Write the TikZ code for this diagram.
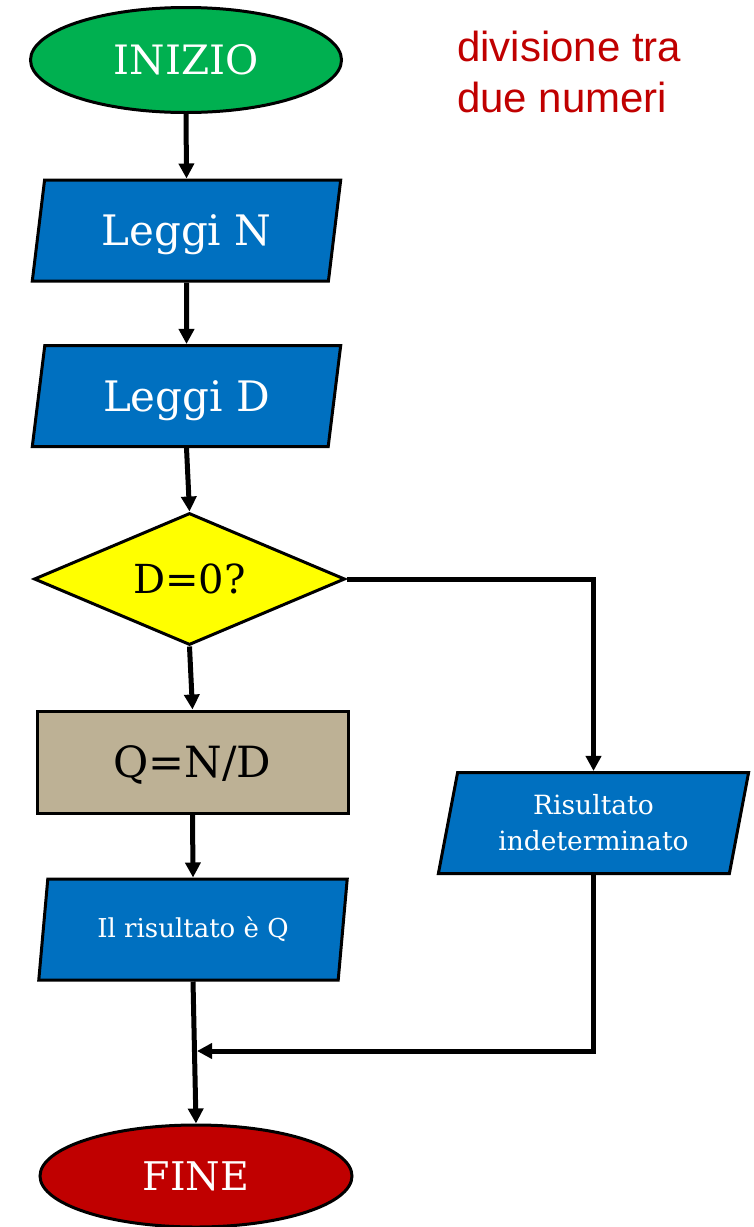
\documentclass[tikz,border=0pt]{standalone}
\usepackage{fontspec}
\setmainfont{DejaVu Serif}
\newfontfamily\helv{Liberation Sans}
\usetikzlibrary{shapes.geometric,arrows.meta}
\definecolor{cgreen}{HTML}{00B050}
\definecolor{cblue}{HTML}{0070C0}
\definecolor{cyellow}{HTML}{FFFF00}
\definecolor{ctan}{HTML}{BDB195}
\definecolor{cred}{HTML}{C00000}
\tikzset{
  shp/.style={draw=black, line width=3pt, inner sep=0pt},
  term/.style={shp, ellipse, minimum width=311pt, minimum height=105pt, text=white, font=\fontsize{40.5}{46}\selectfont},
  io/.style={shp, trapezium, trapezium stretches=true, trapezium left angle=76.6, trapezium right angle=103.4,
     minimum width=309pt, minimum height=101pt, fill=cblue, text=white, font=\fontsize{42}{48}\selectfont},
  dec/.style={shp, diamond, aspect=2.4, minimum width=311pt, minimum height=132pt, fill=cyellow, font=\fontsize{40}{46}\selectfont},
  proc/.style={shp, rectangle, minimum width=311pt, minimum height=102pt, fill=ctan, font=\fontsize{43}{48}\selectfont},
  arr/.style={line width=5pt, -{Triangle[length=15pt,width=15pt]}},
}
\begin{document}
\begin{tikzpicture}[x=1pt,y=-1pt]
\useasboundingbox (0,0) rectangle (753,1227);
\node[term, fill=cgreen] (inizio) at (186,60) {INIZIO};
\node[io, text depth=0pt] (leggiN) at (186.5,230.5) {Leggi N};
\node[io, text depth=0pt] (leggiD) at (186.5,396) {Leggi D};
\node[dec] (d0) at (189.5,579) {D=0?};
\node[proc, text depth=0pt] (calc) at (192.5,762) {Q=N/D};
\node[io] (out) at (193,929.5) {\fontsize{26}{30}\selectfont Il risultato è Q};
\node[io, minimum width=311pt, align=center, font=\fontsize{26.5}{36}\selectfont] (ris) at (593.5,823) {Risultato\\indeterminato};
\node[term, fill=cred, minimum width=312pt, minimum height=102pt, font=\fontsize{39.5}{46}\selectfont] (fine) at (196,1176) {FINE};
\node[anchor=north west, align=left, text=cred, font=\helv\fontsize{42}{51}\selectfont, inner sep=0pt] (title) at (457,31) {divisione tra\\due numeri};
\coordinate (merge) at (197,1051);
\draw[arr] (inizio.south) -- (leggiN.north);
\draw[arr] (leggiN.south) -- (leggiD.north);
\draw[arr] (leggiD.south) -- (d0.north);
\draw[arr] (d0.south) -- (calc.north);
\draw[arr] (calc.south) -- (out.north);
\draw[arr] (d0.east) -| (ris.north);
\draw[arr] (ris.south) |- (merge);
\draw[arr] (out.south) -- (fine.north);
\end{tikzpicture}
\end{document}
